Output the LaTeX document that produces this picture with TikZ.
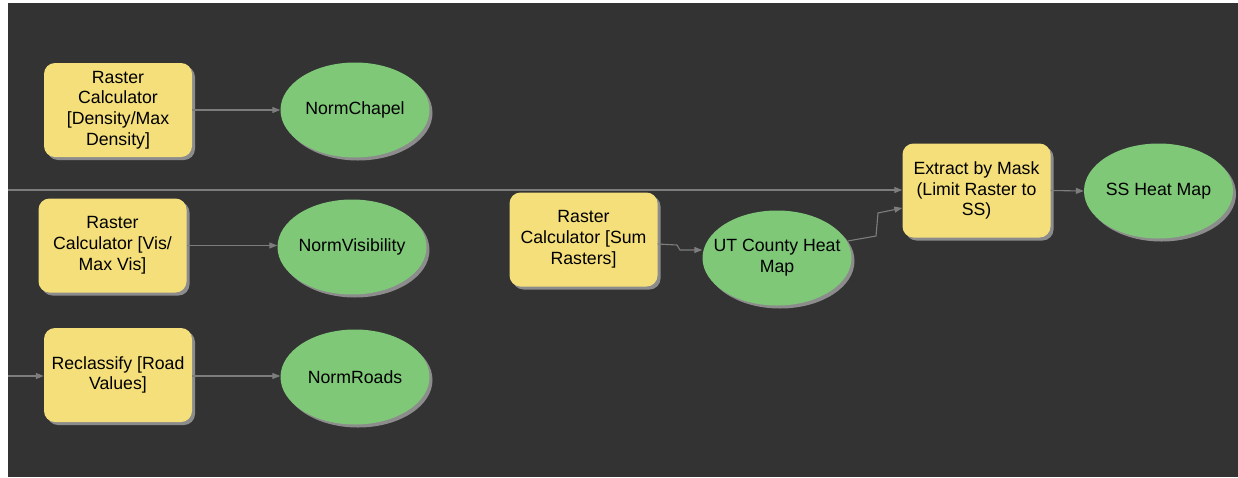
\documentclass[tikz,border=0pt]{standalone}
\usepackage{fontspec}
\setmainfont{Liberation Sans}
\usetikzlibrary{shapes.geometric,arrows.meta,shadows}
\definecolor{bgdark}{RGB}{51,51,51}
\definecolor{boxyellow}{RGB}{245,223,122}
\definecolor{ovalgreen}{RGB}{126,200,120}
\definecolor{linegray}{RGB}{125,125,125}
\definecolor{shadowgray}{RGB}{140,140,140}
\tikzset{
  tool/.style={rectangle, rounded corners=11pt, fill=boxyellow, minimum width=148pt, minimum height=94pt,
    inner sep=0pt, align=center, font=\fontsize{17.7}{20.8}\selectfont,
    drop shadow={shadow xshift=3pt, shadow yshift=-3pt, fill=shadowgray, opacity=1}},
  data/.style={ellipse, fill=ovalgreen, minimum width=149pt, minimum height=95pt,
    inner xsep=-16pt, inner ysep=0pt, align=center, font=\fontsize{17.7}{20.8}\selectfont,
    drop shadow={shadow xshift=3pt, shadow yshift=-3pt, fill=shadowgray, opacity=1}},
  conn/.style={draw=linegray, line width=1.1pt, -{Triangle[length=8pt,width=6pt]}}
}
\begin{document}
\begin{tikzpicture}[x=1pt,y=-1pt]
\useasboundingbox (0,0) rectangle (1238,477);
\fill[white] (0,0) rectangle (1238,477);
\fill[bgdark] (8,3) rectangle (1238,477);

\node[tool] (rc1) at (118,110) {Raster\\Calculator\\{[}Density/Max\\Density{]}};
\node[data] (nc) at (355,110) {NormChapel};
\node[tool] (rc2) at (112.5,245.5) {Raster\\Calculator {[}Vis/\\Max Vis{]}};
\node[data] (nv) at (352,247) {NormVisibility};
\node[tool] (rr) at (118,375) {Reclassify {[}Road\\Values{]}};
\node[data] (nr) at (355,377) {NormRoads};
\node[tool] (rs) at (583.5,239.5) {Raster\\Calculator {[}Sum\\Rasters{]}};
\node[data] (ut) at (777,258) {UT County Heat\\Map};
\node[tool] (ex) at (976.5,190.5) {Extract by Mask\\(Limit Raster to\\SS)};
\node[data] (ss) at (1158.5,191) {SS Heat Map};

\coordinate (in1) at (8,190);
\coordinate (in2) at (8,376);
\coordinate (j1) at (677,245);
\coordinate (j2) at (680,250);
\coordinate (k1) at (876,236);
\coordinate (k2) at (878,213);

\draw[conn] (rc1.east) -- (nc.west |- rc1.east);
\draw[conn] (rc2.east) -- (nv.west |- rc2.east);
\draw[conn] (rr.east |- in2) -- (nr.west |- in2);
\draw[conn] (in2) -- (rr.west |- in2);
\draw[conn] (in1) -- (ex.west |- in1);
\draw[conn] (rs.east |- 0,244) -- (j1) -- (j2) -- (ut.west |- j2);
\draw[conn] (ut.east |- 0,241) ++(-4,0) -- (k1) -- (k2) -- (ex.west |- 0,208);
\draw[conn] (ex.east) -- (ss.west);
\end{tikzpicture}
\end{document}
